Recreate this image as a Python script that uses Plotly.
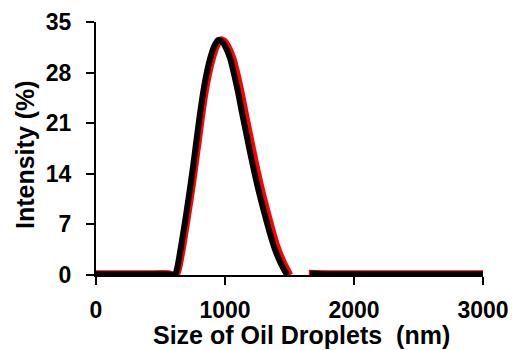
import plotly.graph_objects as go

# Black series (size nm, intensity %)
black_x = [0, 200, 400, 560, 612, 630, 651, 675, 698, 718, 736, 752, 767, 785, 805, 829, 855, 884, 915, 946,
           975, 1005, 1039, 1070, 1101, 1130, 1162, 1194, 1225, 1256, 1287, 1318, 1352, 1388, 1430, 1465, 1481,
           None, 1659, 1800, 2200, 2600, 3000]
black_y = [0.1, 0.1, 0.1, 0.1, 0, 1.0, 3.1, 5.7, 8.3, 10.7, 12.9, 15.0, 17.0, 19.5, 22.2, 25.1, 27.7, 29.9, 31.6, 32.5,
           32.3, 31.5, 30.0, 27.8, 25.3, 22.6, 19.8, 17.0, 14.4, 12.0, 9.8, 7.7, 5.5, 3.5, 1.7, 0.5, 0,
           None, 0.2, 0.1, 0.1, 0.1, 0.1]

# Red series
red_x = [0, 200, 400, 560, 625, 645, 668, 692, 715, 736, 754, 770, 785, 804, 824, 848, 875, 905, 937, 968,
         998, 1030, 1065, 1097, 1128, 1158, 1190, 1222, 1253, 1284, 1315, 1346, 1380, 1416, 1458, 1492, 1505,
         None, 1650, 1800, 2200, 2600, 3000]
red_y = [0.25, 0.25, 0.25, 0.25, 0, 1.0, 3.1, 5.7, 8.3, 10.7, 12.9, 15.0, 17.0, 19.5, 22.2, 25.1, 27.7, 29.9, 31.6, 32.6,
         32.4, 31.5, 30.0, 27.8, 25.3, 22.6, 19.8, 17.0, 14.4, 12.0, 9.8, 7.7, 5.5, 3.5, 1.7, 0.5, 0,
         None, 0.3, 0.25, 0.25, 0.25, 0.25]

x_ticks = [0, 1000, 2000, 3000]
y_ticks = [0, 7, 14, 21, 28, 35]

FONT = "Liberation Sans, Arial, sans-serif"

fig = go.Figure()
fig.add_trace(go.Scatter(x=red_x, y=red_y, mode="lines",
                         line=dict(color="#ff0000", width=6, shape="spline", smoothing=0.6),
                         connectgaps=False, showlegend=False))
fig.add_trace(go.Scatter(x=black_x, y=black_y, mode="lines",
                         line=dict(color="#000000", width=6, shape="spline", smoothing=0.6),
                         connectgaps=False, showlegend=False))

fig.update_layout(
    width=517, height=350,
    margin=dict(l=96, r=34, t=22, b=75),
    paper_bgcolor="white", plot_bgcolor="white",
    font=dict(family=FONT, color="black"),
    annotations=[
        dict(text="<b>Size of Oil Droplets\u00a0\u00a0(nm)</b>", xref="paper", yref="paper",
             x=(301.5 - 96) / 387, y=-(319 - 275) / 253, xanchor="center", yanchor="top",
             showarrow=False, font=dict(size=25, family=FONT, color="black")),
        dict(text="<b>Intensity (%)</b>", xref="paper", yref="paper",
             x=(25 - 96) / 387, y=(275 - 155) / 253, xanchor="center", yanchor="middle",
             textangle=-90, showarrow=False, font=dict(size=25, family=FONT, color="black")),
    ],
)
fig.update_xaxes(
    range=[0, 3000], tickvals=x_ticks, ticktext=[f"<b>{v}</b>" for v in x_ticks],
    showline=True, linecolor="black", linewidth=2,
    ticks="outside", ticklen=8, tickwidth=2, tickcolor="black",
    showgrid=False, zeroline=False,
    tickfont=dict(size=23, family=FONT, color="black"),
    ticklabelstandoff=5,
    automargin=False,
)
fig.update_yaxes(
    range=[0, 35], tickvals=y_ticks, ticktext=[f"<b>{v}</b>" for v in y_ticks],
    showline=True, linecolor="black", linewidth=2,
    ticks="outside", ticklen=8, tickwidth=2, tickcolor="black",
    showgrid=False, zeroline=False,
    tickfont=dict(size=23, family=FONT, color="black"),
    ticklabelstandoff=10,
    automargin=False,
)

fig.write_html("out.html")
